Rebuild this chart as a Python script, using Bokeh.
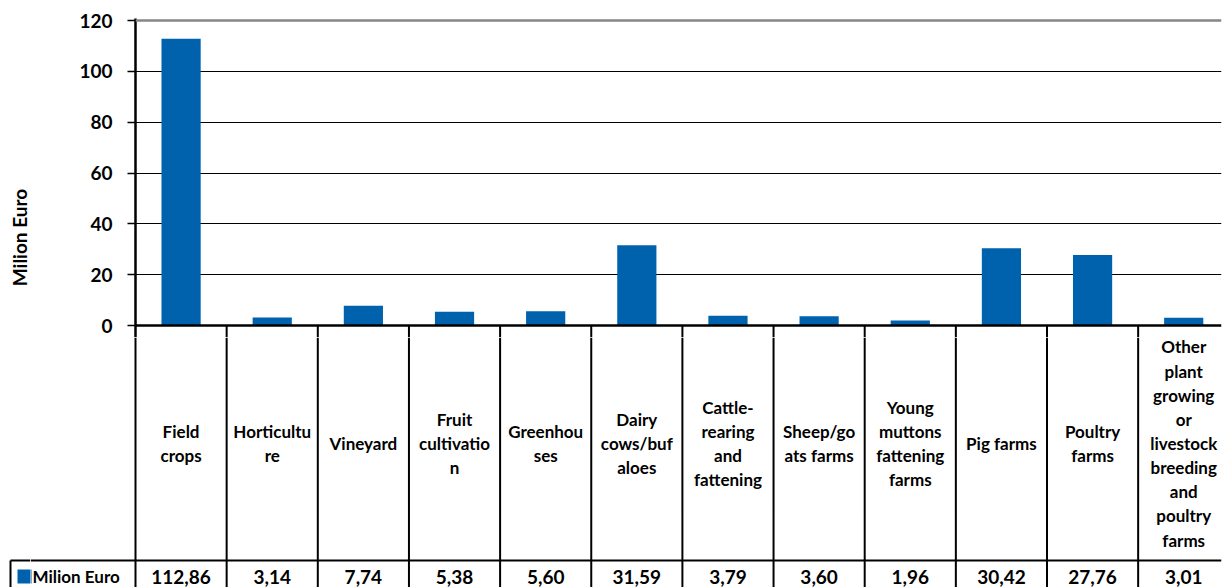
import math

from bokeh.core.properties import value
from bokeh.embed import file_html
from bokeh.layouts import column, row
from bokeh.models import ColumnDataSource, FixedTicker, Range1d, Span
from bokeh.plotting import figure
from bokeh.resources import INLINE

# Farm types (line breaks as wrapped in the table cells)
categories = [
    "Field\ncrops",
    "Horticultu\nre",
    "Vineyard",
    "Fruit\ncultivatio\nn",
    "Greenhou\nses",
    "Dairy\ncows/buf\naloes",
    "Cattle-\nrearing\nand\nfattening",
    "Sheep/go\nats farms",
    "Young\nmuttons\nfattening\nfarms",
    "Pig farms",
    "Poultry\nfarms",
    "Other\nplant\ngrowing\nor\nlivestock\nbreeding\nand\npoultry\nfarms",
]
series_name = "Milion Euro"
y_title = "Milion Euro"
milion_euro = [112.86, 3.14, 7.74, 5.38, 5.60, 31.59, 3.79, 3.60, 1.96, 30.42, 27.76, 3.01]
y_ticks = [0, 20, 40, 60, 80, 100, 120]

FONT = "Lato"
BLUE = "#0061AD"

W, H = 1228, 587
STRIP_W = 30             # narrow strip at the far left holding the axis title
CELL_PX = 91.15          # width of one category column in pixels
LEFT_PX = 135            # left edge of the plotting area
RIGHT_PX = 1221          # right edge of the plotting area
TOP_PX, ZERO_PX = 20, 325
PPU = (ZERO_PX - TOP_PX) / y_ticks[-1]   # pixels per million euro
TOP_H = 337              # height of the bar panel (includes the top strip of the table)
TABLE_LEFT_PX = 10       # left border of the legend cell
ROW_PX = 560             # border between label row and value row
KEY_PX, KEY_Y = 24, 576  # legend key centre

n = len(categories)
x_end = (RIGHT_PX - LEFT_PX) / CELL_PX
centers = [i + 0.5 for i in range(n)]
bounds = list(range(1, n))


def plain(fig):
    fig.frame_align = False
    fig.outline_line_color = None
    fig.xgrid.visible = False
    fig.ygrid.visible = False
    return fig


# ---------------- axis title strip ----------------
strip = plain(figure(
    width=STRIP_W, height=H,
    x_range=Range1d(0, STRIP_W), y_range=Range1d(H, 0),
    x_axis_type=None, y_axis_type=None,
    output_backend="svg", toolbar_location=None,
    min_border=0,
))
strip.text(x=[19], y=[237], text=[y_title], angle=math.pi / 2,
           text_align="center", text_baseline="middle",
           text_font=value(FONT), text_font_style="bold", text_font_size="19px",
           text_color="black")
# left end of the legend cell
strip.segment(x0=[TABLE_LEFT_PX, TABLE_LEFT_PX], y0=[ROW_PX, ROW_PX],
              x1=[STRIP_W, TABLE_LEFT_PX], y1=[ROW_PX, H],
              line_color="black", line_width=2)
strip.scatter(x=[KEY_PX], y=[KEY_Y], marker="square", size=14,
              fill_color=BLUE, line_color=None)

# ---------------- bar chart ----------------
src = ColumnDataSource(dict(x=centers, v=milion_euro))
y_bottom = -(TOP_H - ZERO_PX) / PPU
main_w = W - STRIP_W

top = figure(
    width=main_w, height=TOP_H,
    x_range=Range1d(0, x_end),
    y_range=Range1d(y_bottom, y_ticks[-1] + (TOP_PX - 18) / PPU),
    x_axis_type=None,
    output_backend="svg", toolbar_location=None,
    min_border_left=LEFT_PX - STRIP_W, min_border_right=W - RIGHT_PX,
    min_border_top=18, min_border_bottom=0,
)
top.frame_align = False
top.outline_line_color = None
top.xgrid.visible = False

top.ygrid.ticker = FixedTicker(ticks=y_ticks[1:-1])
top.ygrid.grid_line_color = "black"
top.ygrid.grid_line_width = 1

top.vbar(x="x", top="v", bottom=0, width=0.43, source=src,
         fill_color=BLUE, line_color=None)

top.add_layout(Span(location=y_ticks[-1], dimension="width",
                    line_color="#868686", line_width=2.5))
top.add_layout(Span(location=0, dimension="width",
                    line_color="black", line_width=2.5))

# upper part of the table's column borders
top.segment(x0=bounds, y0=[0] * len(bounds), x1=bounds, y1=[y_bottom] * len(bounds),
            line_color="black", line_width=2)

yax = top.yaxis[0]
yax.ticker = FixedTicker(ticks=y_ticks)
yax.axis_line_color = "black"
yax.axis_line_width = 2.5
yax.major_tick_line_color = "black"
yax.major_tick_line_width = 1.5
yax.major_tick_out = 8
yax.major_tick_in = 0
yax.minor_tick_line_color = None
yax.major_label_standoff = 15
yax.major_label_text_font = FONT
yax.major_label_text_font_style = "bold"
yax.major_label_text_font_size = "19px"
yax.major_label_text_color = "black"

# ---------------- data table ----------------
def px_to_x(px):
    return (px - LEFT_PX) / CELL_PX


bot = plain(figure(
    width=main_w, height=H - TOP_H,
    x_range=Range1d(px_to_x(STRIP_W), x_end),
    y_range=Range1d(H, TOP_H),
    x_axis_type=None, y_axis_type=None,
    output_backend="svg", toolbar_location=None,
    min_border_left=0, min_border_right=W - RIGHT_PX,
    min_border_top=0, min_border_bottom=0,
))

# column borders
edges = list(range(n))
bot.segment(x0=edges, y0=[TOP_H] * n, x1=edges, y1=[H] * n,
            line_color="black", line_width=2)
# border between label row and value row
bot.segment(x0=[px_to_x(STRIP_W)], y0=[ROW_PX], x1=[x_end], y1=[ROW_PX],
            line_color="black", line_width=2)

labels_src = ColumnDataSource(dict(x=centers, y=[443] * n, t=categories))
bot.text(x="x", y="y", text="t", source=labels_src,
         text_align="center", text_baseline="middle",
         text_font=value(FONT), text_font_style="bold", text_font_size="17px",
         text_line_height=1.15, text_color="black")

values_src = ColumnDataSource(dict(
    x=centers, y=[KEY_Y] * n,
    t=[f"{v:.2f}".replace(".", ",") for v in milion_euro],
))
bot.text(x="x", y="y", text="t", source=values_src,
         text_align="center", text_baseline="middle",
         text_font=value(FONT), text_font_style="bold", text_font_size="19px",
         text_color="black")

# legend key (continues the square started in the strip) and series name
bot.scatter(x=[px_to_x(KEY_PX)], y=[KEY_Y], marker="square", size=14,
            fill_color=BLUE, line_color=None)
bot.text(x=[px_to_x(32)], y=[KEY_Y], text=[series_name],
         text_align="left", text_baseline="middle",
         text_font=value(FONT), text_font_style="bold", text_font_size="17px",
         text_color="black")

layout = row(strip, column(top, bot, spacing=0), spacing=0)
open("out.html", "w").write(file_html(layout, INLINE))
